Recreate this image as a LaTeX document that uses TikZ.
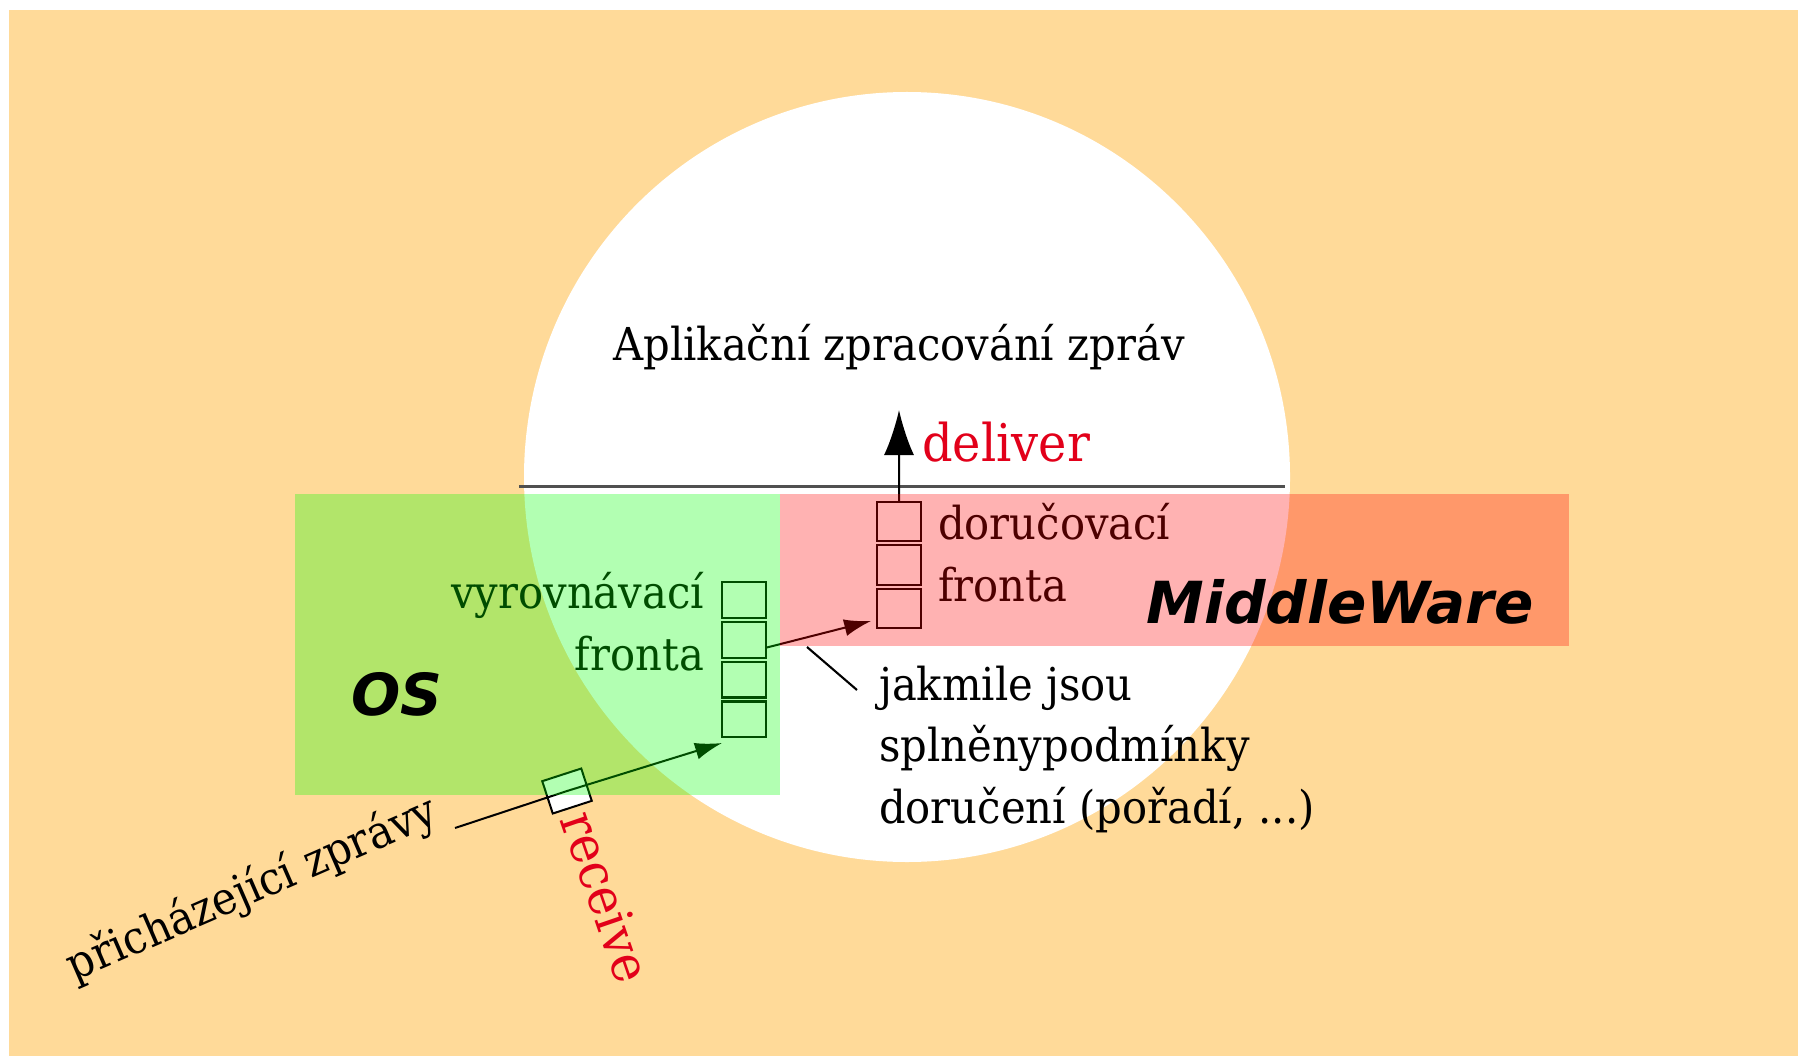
\documentclass[tikz,border=0pt]{standalone}
\usepackage{fontspec}
\setmainfont{DejaVu Serif}[FakeStretch=0.92]
\newfontfamily\layerfont{DejaVu Sans}
\usetikzlibrary{positioning,arrows.meta}

\definecolor{peach}{HTML}{FFDA99}
\definecolor{actred}{HTML}{E2001A}
\definecolor{rulegray}{HTML}{505050}

\begin{document}
\begin{tikzpicture}[x=0.1mm, y=-0.1mm, semithick,
txt/.style ={inner sep=0pt, font=\fontsize{12.9}{17.5}\selectfont},
act/.style ={inner sep=0pt, text=actred, font=\fontsize{14.8}{18}\selectfont},
layer/.style ={inner sep=0pt, font=\layerfont\bfseries\itshape\fontsize{16.5}{20}\selectfont},
bufcell/.style ={draw, line width=0.22mm, inner sep=0pt, outer sep=0pt,
minimum width=4.4mm, minimum height=3.58mm},
delcell/.style ={bufcell, minimum height=3.93mm},
msg/.style ={-{Latex[length=2.7mm, width=1.7mm]}, line width=0.2mm}]
\useasboundingbox (0,0) rectangle (1798,1056);
\fill[white] (0,0) rectangle (1798,1056);
\fill[peach] (9,10) rectangle (1798,1056);
\fill[white] (907,477) ellipse [x radius=383, y radius=385];
\draw[rulegray, line width=0.3mm] (519,486) -- (1285,486);

% the two queues
\node[bufcell] (b1) [anchor=north west] at (722,582) {};
\node[bufcell] (b2) [below = 0.4mm of b1] {};
\node[bufcell] (b3) [below = 0.4mm of b2] {};
\node[bufcell] (b4) [below = 0.4mm of b3] {};
\node[delcell] (d1) [anchor=north west] at (877,502) {};
\node[delcell] (d2) [below = 0.4mm of d1] {};
\node[delcell] (d3) [below = 0.4mm of d2] {};

% texts (base = last line)
\node[txt] (app) [anchor=base] at (899,360) {Aplikační zpracování zpráv};
\node[act] (dlv) [anchor=base west] at (921,461) {deliver};
\node[txt] (dqlbl) [anchor=base west, align=left] at (937,601) {doručovací\\fronta};
\node[txt] (buflbl) [anchor=base east, align=right] at (705,670) {vyrovnávací\\fronta};
\node[txt] (cond) [anchor=base west, align=left] at (878,823)
{jakmile jsou\\splněnypodmínky\\doručení (pořadí, ...)};
\node[txt] (in) [anchor=east, rotate=23.5] at (436,810) {přicházející zprávy};
\node[draw, fill=white, line width=0.2mm, inner sep=0pt, rotate=18,
minimum width=4.1mm, minimum height=3.4mm] (rx) at (567,791) {};
\node[act] (rcv) [anchor=west, rotate=-71] at (577,812) {receive};

\coordinate (instart) at (455,828);
\coordinate (dtip) at (899,410);
\coordinate (rxtip) at (722,743);
\coordinate (lead) at (807,647);
\coordinate (leadend) at (857,690);

% message flow
\draw[line width=0.2mm] (instart) -- (rx.center);
\draw[msg] (rx.center) -- (rxtip);
\draw[msg, shorten >=0.6mm] (b2.-20) -- (d3.207);
\draw[-{Latex[length=4.5mm, width=3mm]}, line width=0.2mm] (d1.north) -- (dtip);
\draw (lead) -- (leadend);

% OS and middleware layers
\fill[green, opacity=0.3] (295,494) rectangle (780,795);
\fill[red, opacity=0.3] (780,494) rectangle (1569,646);
\node[layer] (os) at (397,694) {OS};
\node[layer] (mw) at (1340,602) {MiddleWare};
\end{tikzpicture}
\end{document}
